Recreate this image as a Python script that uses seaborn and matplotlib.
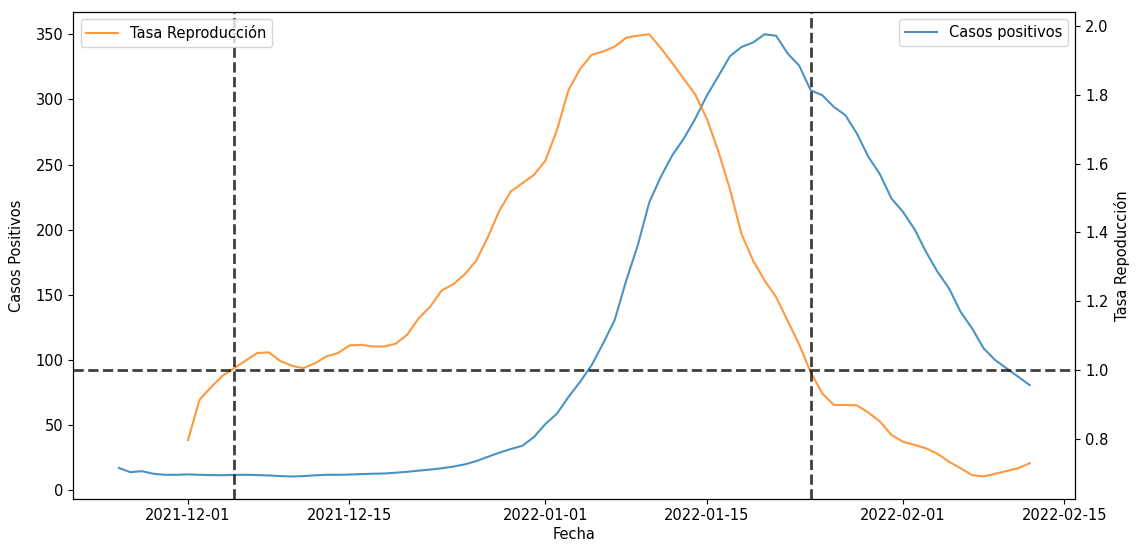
import matplotlib
matplotlib.use("Agg")
import matplotlib.pyplot as plt
import matplotlib.dates as mdates
import pandas as pd
import seaborn as sns

# Casos positivos diarios (media móvil), del 2021-11-25 al 2022-02-12
inicio_casos = "2021-11-25"
casos_positivos = [
    17.3, 14.0, 14.8, 12.8, 12.0, 12.0, 12.3, 12.0, 11.8, 11.7,
    12.0, 12.0, 11.8, 11.5, 11.0, 10.7, 11.0, 11.6, 12.0, 12.0,
    12.2, 12.5, 12.8, 13.0, 13.6, 14.3, 15.2, 16.0, 17.0, 18.3,
    20.0, 22.5, 25.8, 29.0, 31.8, 34.3, 41.0, 51.0, 59.0, 71.8,
    83.3, 96.1, 112.8, 130.7, 161.0, 188.0, 221.0, 240.6, 257.2, 270.0,
    285.4, 303.0, 318.0, 333.2, 340.3, 343.7, 350.0, 348.9, 335.3, 326.0,
    307.0, 303.3, 294.3, 288.0, 274.0, 256.0, 242.7, 224.0, 213.8, 200.5,
    183.1, 167.7, 155.0, 137.0, 124.3, 109.0, 100.0, 93.6, 87.2, 80.8,
]

# Tasa de reproducción, del 2021-12-01 al 2022-02-12
inicio_tasa = "2021-12-01"
tasa_reproduccion = [
    0.796, 0.913, 0.950, 0.983, 1.005, 1.027, 1.049, 1.051, 1.026, 1.012,
    1.005, 1.019, 1.039, 1.049, 1.071, 1.073, 1.068, 1.068, 1.076, 1.102,
    1.150, 1.184, 1.231, 1.249, 1.278, 1.318, 1.386, 1.463, 1.519, 1.543,
    1.567, 1.609, 1.698, 1.814, 1.875, 1.916, 1.926, 1.940, 1.966, 1.972,
    1.976, 1.936, 1.892, 1.846, 1.800, 1.730, 1.635, 1.525, 1.395, 1.318,
    1.260, 1.212, 1.143, 1.074, 0.993, 0.932, 0.898, 0.898, 0.897, 0.876,
    0.850, 0.811, 0.791, 0.782, 0.772, 0.756, 0.733, 0.714, 0.694, 0.690,
    0.698, 0.706, 0.714, 0.729,
]

# Fechas en que la tasa cruza 1 y umbral de referencia
fechas_cruce = ["2021-12-05", "2022-01-24"]
umbral_tasa = 1.0

fechas_casos = pd.date_range(inicio_casos, periods=len(casos_positivos), freq="D")
fechas_tasa = pd.date_range(inicio_tasa, periods=len(tasa_reproduccion), freq="D")

plt.rcParams["font.size"] = 10.5
plt.rcParams["legend.handlelength"] = 2.2

fig, ax = plt.subplots(figsize=(11.36, 5.46), dpi=100)
fig.subplots_adjust(left=0.0645, right=0.9466, bottom=0.0868, top=0.9777)

sns.lineplot(x=fechas_casos, y=casos_positivos, ax=ax, color="tab:blue",
             alpha=0.8, linewidth=1.5, label="Casos positivos")
ax.set_xlabel("Fecha", labelpad=3)
ax.set_ylabel("Casos Positivos", labelpad=8)
ax.legend(loc="upper right")

ax2 = ax.twinx()
sns.lineplot(x=fechas_tasa, y=tasa_reproduccion, ax=ax2, color="tab:orange",
             alpha=0.8, linewidth=1.5, label="Tasa Reproducción")
ax2.set_ylabel("Tasa Repoducción")
ax2.legend(loc="upper left")

ax2.axhline(umbral_tasa, color="k", linestyle="--", linewidth=2, alpha=0.75)
for f in fechas_cruce:
    ax2.axvline(pd.Timestamp(f), color="k", linestyle="--", linewidth=2, alpha=0.75)

ax.xaxis.set_major_locator(mdates.DayLocator(bymonthday=[1, 15]))
ax.xaxis.set_major_formatter(mdates.DateFormatter("%Y-%m-%d"))

fig.savefig("out.png", dpi=100)
